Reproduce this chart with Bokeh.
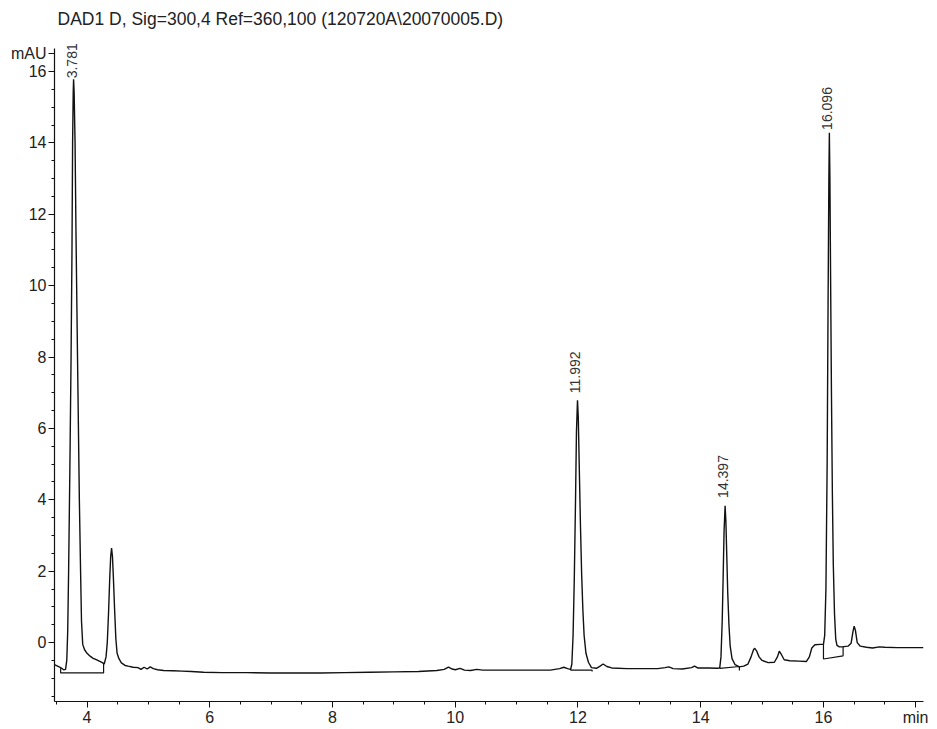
import math
from bokeh.plotting import figure
from bokeh.models import FixedTicker, Range1d, LabelSet, Label, ColumnDataSource
from bokeh.core.properties import value
from bokeh.embed import file_html
from bokeh.resources import INLINE

# ---- data ----
time_min = [
    3.47, 3.52, 3.57, 3.62, 3.65, 3.67, 3.685, 3.70, 3.72, 3.74, 3.755, 3.765, 3.775, 3.781,
    3.79, 3.805, 3.82, 3.835, 3.845, 3.86, 3.875, 3.895, 3.91, 3.93, 3.96, 4.0, 4.05, 4.1,
    4.15, 4.2, 4.25, 4.28, 4.31, 4.33, 4.35, 4.37, 4.385, 4.40, 4.415, 4.43, 4.45, 4.47,
    4.49, 4.52, 4.56, 4.62, 4.67, 4.75, 4.83, 4.88, 4.93, 4.98, 5.03, 5.08, 5.15, 5.25,
    5.4, 5.55, 5.7, 5.9, 6.2, 6.6, 7.0, 7.4, 7.8, 8.2, 8.6, 9.0, 9.4, 9.7, 9.82, 9.89,
    9.95, 10.0, 10.08, 10.15, 10.25, 10.35, 10.45, 10.7, 11.0, 11.3, 11.55, 11.7, 11.77,
    11.83, 11.88, 11.90, 11.92, 11.94, 11.96, 11.975, 11.992, 12.005, 12.02, 12.04, 12.06,
    12.08, 12.10, 12.13, 12.17, 12.22, 12.3, 12.36, 12.41, 12.47, 12.55, 12.8, 13.04, 13.3,
    13.42, 13.48, 13.55, 13.7, 13.85, 13.9, 13.95, 14.12, 14.28, 14.31, 14.33, 14.35,
    14.365, 14.38, 14.397, 14.41, 14.425, 14.44, 14.46, 14.48, 14.51, 14.56, 14.63, 14.7,
    14.77, 14.82, 14.86, 14.88, 14.91, 14.95, 15.0, 15.1, 15.2, 15.25, 15.28, 15.31, 15.36,
    15.45, 15.6, 15.72, 15.77, 15.81, 15.86, 15.95, 16.0, 16.02, 16.04, 16.06, 16.075,
    16.088, 16.096, 16.105, 16.115, 16.13, 16.145, 16.16, 16.18, 16.2, 16.22, 16.26, 16.3,
    16.4, 16.45, 16.48, 16.5, 16.52, 16.55, 16.6, 16.7, 16.8, 16.91, 17.0, 17.2, 17.4, 17.63,
]
signal_mau = [
    -0.62, -0.66, -0.70, -0.76, -0.75, -0.5, 0.3, 2.0, 4.8, 8.0, 11.0, 14.0, 15.4, 15.78,
    15.4, 14.0, 11.5, 9.4, 8.0, 6.0, 4.0, 2.0, 0.6, -0.05, -0.2, -0.3, -0.38, -0.44,
    -0.48, -0.52, -0.56, -0.6, -0.4, 0.0, 0.8, 1.8, 2.4, 2.65, 2.4, 1.8, 0.9, 0.1,
    -0.3, -0.45, -0.57, -0.64, -0.66, -0.69, -0.70, -0.75, -0.69, -0.74, -0.68, -0.73, -0.76, -0.78,
    -0.79, -0.80, -0.81, -0.83, -0.84, -0.84, -0.85, -0.85, -0.85, -0.84, -0.83, -0.82, -0.81, -0.78, -0.75, -0.69,
    -0.74, -0.76, -0.72, -0.77, -0.78, -0.75, -0.77, -0.77, -0.77, -0.77, -0.77, -0.73, -0.69,
    -0.73, -0.75, -0.6, 0.2, 1.8, 4.0, 5.9, 6.79, 6.3, 5.0, 3.3, 1.9,
    0.9, 0.2, -0.3, -0.55, -0.7, -0.72, -0.66, -0.6, -0.67, -0.71, -0.73, -0.73, -0.73,
    -0.70, -0.68, -0.73, -0.74, -0.70, -0.66, -0.71, -0.71, -0.72, -0.7, -0.4, 0.6,
    1.8, 3.1, 3.83, 3.4, 2.4, 1.4, 0.5, -0.1, -0.45, -0.62, -0.68, -0.66,
    -0.6, -0.4, -0.2, -0.16, -0.23, -0.4, -0.5, -0.56, -0.55, -0.4, -0.24, -0.32, -0.48,
    -0.51, -0.52, -0.53, -0.4, -0.15, -0.06, -0.05, -0.05, 0.2, 1.5, 5.0, 9.5,
    13.0, 14.28, 13.0, 10.5, 7.0, 4.2, 2.2, 0.8, 0.1, -0.08, -0.12, -0.12,
    -0.1, -0.02, 0.3, 0.46, 0.35, 0.0, -0.1, -0.13, -0.15, -0.12, -0.13, -0.14, -0.14, -0.14,
]

peak_rt = [3.781, 11.992, 14.397, 16.096]
peak_height = [15.78, 6.79, 3.83, 14.28]
peak_labels = ["3.781", "11.992", "14.397", "16.096"]
label_gap_px = [1, 7, 8, 3]

# integration baselines (start drop, baseline, end drop)
baseline_x = [
    [3.57, 3.57, 4.27, 4.27],
    [11.88, 11.88, 12.23, 12.23],
    [14.31, 14.31, 14.63, 14.63],
    [16.0, 16.0, 16.32, 16.32],
]
baseline_y = [
    [-0.72, -0.85, -0.85, -0.60],
    [-0.73, -0.77, -0.77, -0.81],
    [-0.70, -0.72, -0.67, -0.78],
    [-0.05, -0.46, -0.37, -0.12],
]

x_major = [4, 6, 8, 10, 12, 14, 16, 17.5]
x_tick_labels = {4: "4", 6: "6", 8: "8", 10: "10", 12: "12", 14: "14", 16: "16", 17.5: "min"}
y_major = [0, 2, 4, 6, 8, 10, 12, 14, 16, 16.5]
y_tick_labels = {0: "0", 2: "2", 4: "4", 6: "6", 8: "8", 10: "10", 12: "12", 14: "14", 16: "16", 16.5: "mAU"}

title_text = "DAD1 D, Sig=300,4 Ref=360,100 (120720A\\20070005.D)"

FONT = "Liberation Sans"
X0, X1 = 3.47, 17.63
Y0, Y_AXIS_TOP, Y_FRAME_TOP = -1.65, 16.64, 17.82

p = figure(width=937, height=728, output_backend="svg", toolbar_location=None,
           x_range=Range1d(X0, X1), y_range=Range1d(Y0, Y_FRAME_TOP),
           min_border_left=54, min_border_right=14, min_border_top=6, min_border_bottom=26)
p.outline_line_color = None
p.grid.visible = False
p.background_fill_color = "white"
p.border_fill_color = "white"

x_minor = [3.5 + 0.5 * i for i in range(29) if (3.5 + 0.5 * i) not in x_major]
y_minor = [-1.5 + 0.5 * i for i in range(36) if (-1.5 + 0.5 * i) not in y_major]
p.xaxis.ticker = FixedTicker(ticks=x_major, minor_ticks=x_minor)
p.yaxis.ticker = FixedTicker(ticks=y_major, minor_ticks=y_minor)
p.xaxis.major_label_overrides = x_tick_labels
p.yaxis.major_label_overrides = y_tick_labels
p.yaxis.bounds = (Y0, Y_AXIS_TOP)

for ax in (p.xaxis[0], p.yaxis[0]):
    ax.axis_line_color = "#111111"
    ax.axis_line_width = 1.2
    ax.major_tick_line_color = "#111111"
    ax.minor_tick_line_color = "#111111"
    ax.major_tick_in = 0
    ax.major_tick_out = 6
    ax.minor_tick_in = 0
    ax.minor_tick_out = 3
    ax.major_label_text_font = FONT
    ax.major_label_text_font_size = "16px"
    ax.major_label_text_color = "#222222"
p.xaxis.major_label_standoff = 1
p.yaxis.major_label_standoff = 2
p.yaxis.major_label_orientation = "horizontal"

p.line(time_min, signal_mau, line_color="#111111", line_width=1.4)
p.multi_line(baseline_x, baseline_y, line_color="#111111", line_width=1.2)

label_src = ColumnDataSource(dict(x=peak_rt, y=peak_height, t=peak_labels, gap=label_gap_px))
labels = LabelSet(x="x", y="y", text="t", source=label_src, angle=math.pi / 2,
                  text_align="left", text_baseline="middle",
                  x_offset=-2, y_offset="gap",
                  text_font=value(FONT), text_font_size="14px", text_color="#333333")
p.add_layout(labels)

title_label = Label(x=X0, y=Y_AXIS_TOP, x_offset=3, y_offset=30, text=title_text,
                    text_align="left", text_baseline="middle",
                    text_font=FONT, text_font_size="17.5px", text_color="#222222")
p.add_layout(title_label)

open("out.html", "w").write(file_html(p, INLINE))
